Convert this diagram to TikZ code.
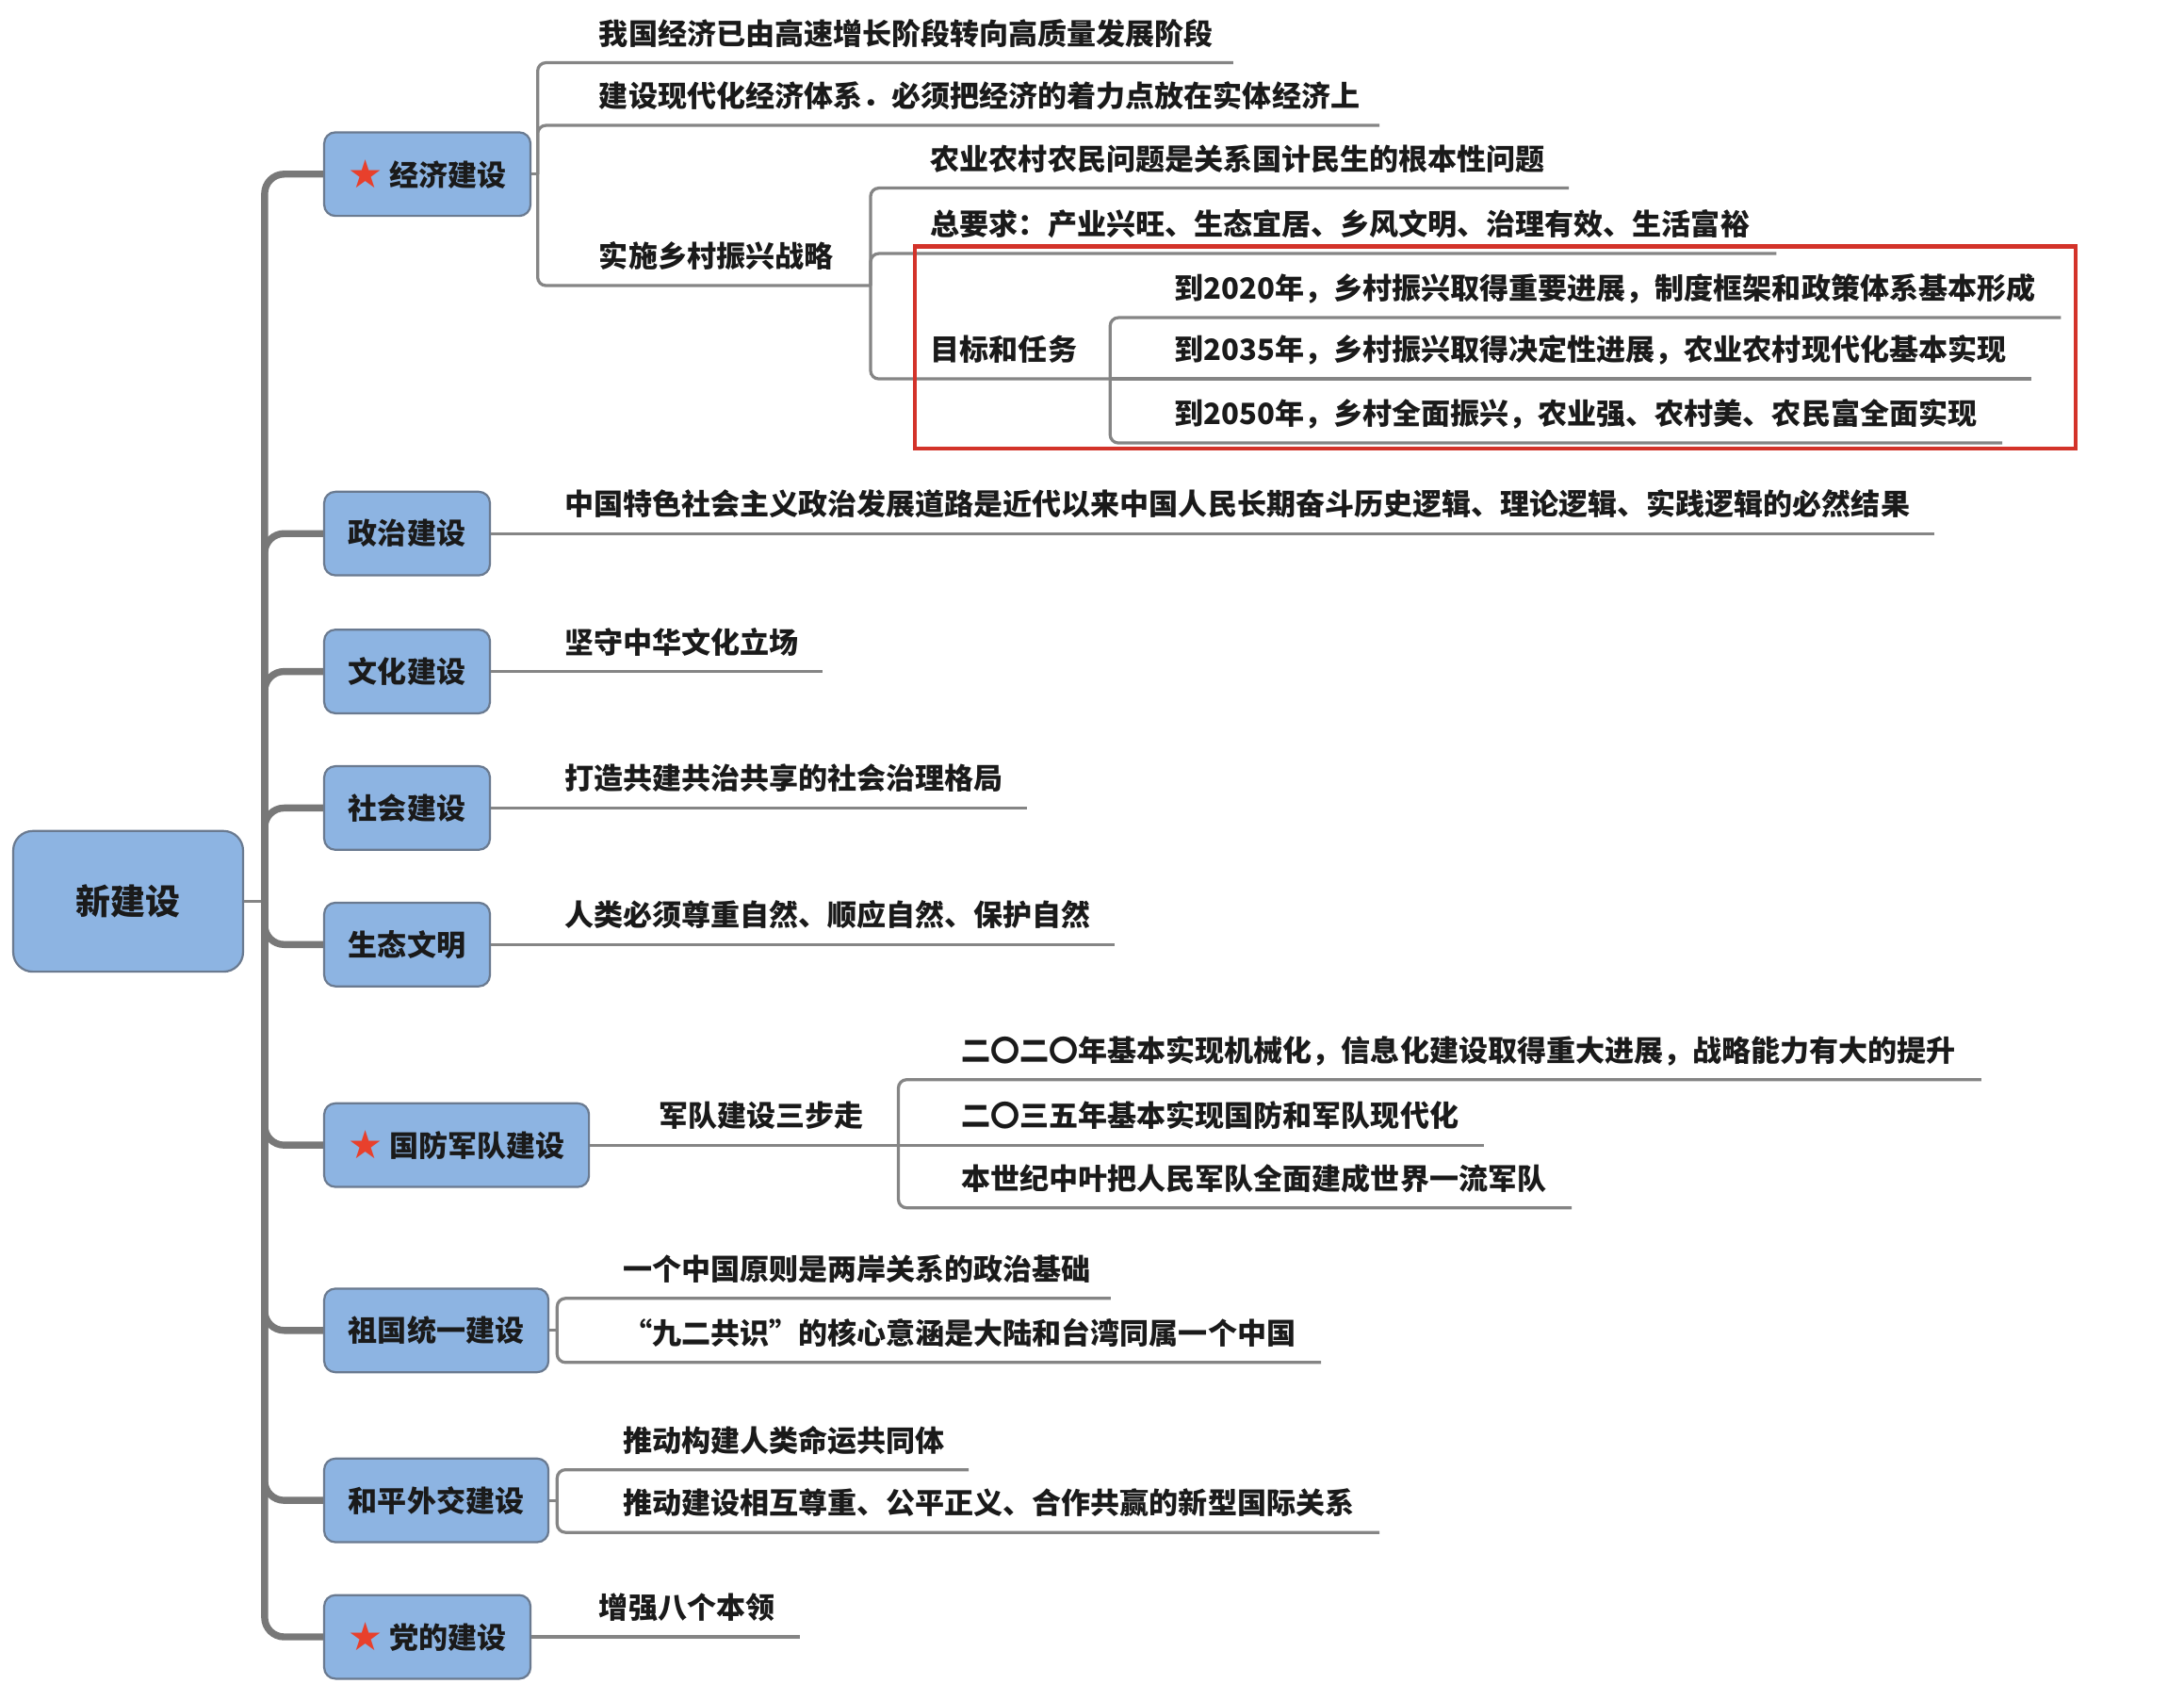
\documentclass[tikz,border=0pt]{standalone}
\usepackage{fontspec}
\setmainfont{Noto Sans CJK SC}
\newfontfamily\symfont{DejaVu Sans}
\definecolor{boxfill}{HTML}{8DB4E2}
\definecolor{boxdraw}{HTML}{6A7A90}
\definecolor{linegray}{HTML}{858585}
\definecolor{trunkgray}{HTML}{787878}
\definecolor{txt}{HTML}{1A1A1A}
\definecolor{starred}{HTML}{E8402C}
\definecolor{framered}{HTML}{D3332A}
\newcommand{\redstar}{\raisebox{-1.5pt}{\symfont\fontsize{28pt}{28pt}\selectfont\textcolor{starred}{★}}\hspace{5pt}}
\begin{document}
\begin{tikzpicture}[x=1pt,y=-1pt,
  lvlbox/.style={draw=boxdraw, fill=boxfill, line width=1.5pt, rounded corners=8pt,
    minimum height=60pt, inner xsep=17.5pt, anchor=west, text=txt,
    font=\bfseries\fontsize{21pt}{25pt}\selectfont},
  starbox/.style={lvlbox, inner xsep=17pt},
  rootbox/.style={draw=boxdraw, fill=boxfill, line width=1.5pt, rounded corners=14pt,
    minimum width=165pt, minimum height=101pt, text=txt,
    font=\bfseries\fontsize{25pt}{30pt}\selectfont},
  leaf/.style={anchor=south west, inner xsep=0pt, inner ysep=13pt, text depth=0pt,
    text=txt, font=\bfseries\fontsize{21pt}{25pt}\selectfont},
  leafline/.style={draw=linegray, line width=2.2pt, rounded corners=6pt},
  trunk/.style={draw=trunkgray, line width=5pt, rounded corners=14pt},
  redframe/.style={draw=framered, line width=3pt}
]
\useasboundingbox (0,0) rectangle (1568,1220);

% root and level-1 boxes
\node[rootbox] (root) at (92,647) {新建设};
\coordinate (tr) at (190,647);
\node[starbox] (b1) at (232,125) {\redstar 经济建设};
\node[lvlbox] (b2) at (232,383) {政治建设};
\node[lvlbox] (b3) at (232,482) {文化建设};
\node[lvlbox] (b4) at (232,580) {社会建设};
\node[lvlbox] (b5) at (232,678) {生态文明};
\node[starbox] (b6) at (232,822) {\redstar 国防军队建设};
\node[lvlbox] (b7) at (232,955) {祖国统一建设};
\node[lvlbox] (b8) at (232,1077) {和平外交建设};
\node[starbox] (b9) at (232,1175) {\redstar 党的建设};

% trunk
\draw[leafline] (root.east) -- (tr);
\foreach \b in {b1,b2,b3,b4,b5,b6,b7,b8,b9}
  \draw[trunk] (tr) |- (\b.west);

% economy
\node[leaf] (l11) at (430,45) {我国经济已由高速增长阶段转向高质量发展阶段};
\node[leaf] (l12) at (430,90) {建设现代化经济体系．必须把经济的着力点放在实体经济上};
\node[leaf] (l13) at (430,205) {实施乡村振兴战略};
\coordinate (j1) at (386,125);
\coordinate (j2) at (625,205);
\draw[leafline] (b1.east) -- (j1);
\draw[leafline] (j1) |- ([xshift=14pt]l11.south east);
\draw[leafline] (j1) |- ([xshift=14pt]l12.south east);
\draw[leafline] (j1) |- (j2);

\node[leaf] (l21) at (668,135) {农业农村农民问题是关系国计民生的根本性问题};
\node[leaf] (l22) at (668,182) {总要求：产业兴旺、生态宜居、乡风文明、治理有效、生活富裕};
\node[leaf] (l23) at (668,272) {目标和任务};
\coordinate (j3) at (797,272);
\draw[leafline] (j2) |- ([xshift=17pt]l21.south east);
\draw[leafline] (j2) |- ([xshift=19pt]l22.south east);
\draw[leafline] (j2) |- (j3);

\node[leaf] (l31) at (843,228) {到2020年，乡村振兴取得重要进展，制度框架和政策体系基本形成};
\node[leaf] (l32) at (843,272) {到2035年，乡村振兴取得决定性进展，农业农村现代化基本实现};
\node[leaf] (l33) at (843,318) {到2050年，乡村全面振兴，农业强、农村美、农民富全面实现};
\draw[leafline] (j3) |- ([xshift=18pt]l31.south east);
\draw[leafline] (j3) -- ([xshift=18pt]l32.south east);
\draw[leafline] (j3) |- ([xshift=18pt]l33.south east);
\draw[redframe] (657,177) rectangle (1490,322);

% politics, culture, society, ecology
\node[leaf] (p1) at (405,383) {中国特色社会主义政治发展道路是近代以来中国人民长期奋斗历史逻辑、理论逻辑、实践逻辑的必然结果};
\draw[leafline] (b2.east) -- ([xshift=17pt]p1.south east);
\node[leaf] (c1) at (405,482) {坚守中华文化立场};
\draw[leafline] (b3.east) -- ([xshift=17pt]c1.south east);
\node[leaf] (s1) at (405,580) {打造共建共治共享的社会治理格局};
\draw[leafline] (b4.east) -- ([xshift=17pt]s1.south east);
\node[leaf] (e1) at (405,678) {人类必须尊重自然、顺应自然、保护自然};
\draw[leafline] (b5.east) -- ([xshift=17pt]e1.south east);

% defense
\node[leaf] (d0) at (473,822) {军队建设三步走};
\coordinate (j6) at (645,822);
\draw[leafline] (b6.east) -- (j6);
\node[leaf] (d1) at (690,775) {二〇二〇年基本实现机械化，信息化建设取得重大进展，战略能力有大的提升};
\node[leaf] (d2) at (690,822) {二〇三五年基本实现国防和军队现代化};
\node[leaf] (d3) at (690,867) {本世纪中叶把人民军队全面建成世界一流军队};
\draw[leafline] (j6) |- ([xshift=18pt]d1.south east);
\draw[leafline] (j6) -- ([xshift=18pt]d2.south east);
\draw[leafline] (j6) |- ([xshift=18pt]d3.south east);

% unification
\coordinate (j7) at (400,955);
\draw[leafline] (b7.east) -- (j7);
\node[leaf] (u1) at (447,932) {一个中国原则是两岸关系的政治基础};
\node[leaf] (u2) at (447,978) {“九二共识”的核心意涵是大陆和台湾同属一个中国};
\draw[leafline] (j7) |- ([xshift=14pt]u1.south east);
\draw[leafline] (j7) |- ([xshift=18pt]u2.south east);

% diplomacy
\coordinate (j8) at (400,1077);
\draw[leafline] (b8.east) -- (j8);
\node[leaf] (f1) at (447,1055) {推动构建人类命运共同体};
\node[leaf] (f2) at (447,1100) {推动建设相互尊重、公平正义、合作共赢的新型国际关系};
\draw[leafline] (j8) |- ([xshift=17pt]f1.south east);
\draw[leafline] (j8) |- ([xshift=18pt]f2.south east);

% party
\node[leaf] (g1) at (430,1175) {增强八个本领};
\draw[leafline] (b9.east) -- ([xshift=18pt]g1.south east);
\end{tikzpicture}
\end{document}
